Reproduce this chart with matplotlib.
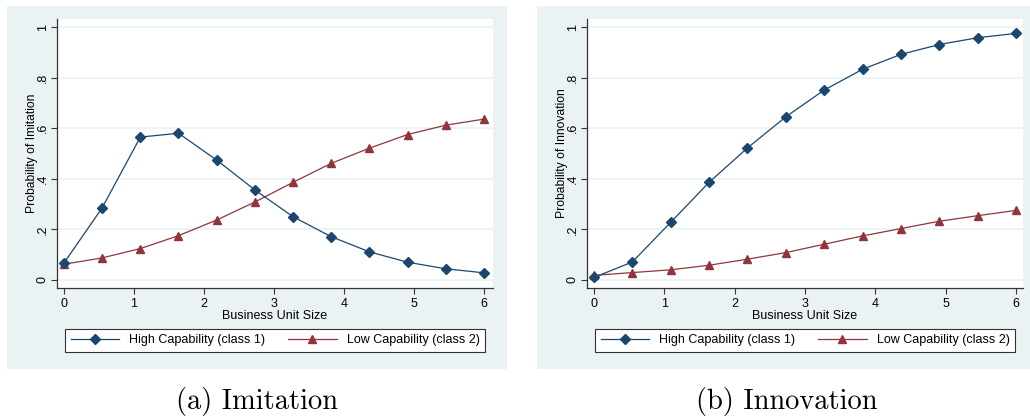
import numpy as np
import matplotlib
matplotlib.use("Agg")
import matplotlib.pyplot as plt
from matplotlib.patches import Rectangle

# business unit size grid (12 evaluation points)
unit_size = [0, 0.545, 1.091, 1.636, 2.182, 2.727, 3.273, 3.818, 4.364, 4.909, 5.455, 6]

imit_high = [0.067, 0.285, 0.565, 0.58, 0.474, 0.356, 0.25, 0.171, 0.111, 0.07, 0.044, 0.028]
imit_low = [0.062, 0.087, 0.124, 0.175, 0.237, 0.308, 0.386, 0.461, 0.521, 0.575, 0.612, 0.636]

innov_high = [0.01, 0.071, 0.228, 0.386, 0.522, 0.645, 0.751, 0.833, 0.892, 0.931, 0.958, 0.975]
innov_low = [0.018, 0.029, 0.04, 0.058, 0.082, 0.108, 0.141, 0.174, 0.203, 0.232, 0.254, 0.275]

yticks = [0, 0.2, 0.4, 0.6, 0.8, 1.0]
yticklabels = ["0", ".2", ".4", ".6", ".8", "1"]
xticks = [0, 1, 2, 3, 4, 5, 6]

series_labels = ["High Capability (class 1)", "Low Capability (class 2)"]
captions = ["(a) Imitation", "(b) Innovation"]
ylabels = ["Probability of Imitation", "Probability of Innovation"]

navy = "#1a476f"
maroon = "#90353b"
bg = "#eaf2f3"

plt.rcParams["font.family"] = ["Liberation Sans", "DejaVu Sans"]
plt.rcParams["font.size"] = 8.5

W, H = 1030, 416
fig = plt.figure(figsize=(W / 100, H / 100), dpi=100, facecolor="white")


def px_rect(x0, y0, x1, y1):
    # pixel box -> figure fraction [left, bottom, width, height]
    return [x0 / W, 1 - y1 / H, (x1 - x0) / W, (y1 - y0) / H]


def draw_panel(bgbox, axbox, xlim, high, low, ylabel, caption, cap_x):
    l, b, w, h = px_rect(*bgbox)
    fig.patches.append(Rectangle((l, b), w, h, transform=fig.transFigure,
                                 facecolor=bg, edgecolor="none", zorder=-10))
    ax = fig.add_axes(px_rect(*axbox))
    ax.set_zorder(5)
    ax.set_facecolor("white")
    for yt in yticks:
        ax.axhline(yt, color=bg, lw=1.2, zorder=1)
    ax.plot(unit_size, high, color=navy, lw=0.9, marker="D", ms=5.2,
            label=series_labels[0], zorder=3)
    ax.plot(unit_size, low, color=maroon, lw=0.9, marker="^", ms=5.8,
            label=series_labels[1], zorder=2)
    ax.set_xlim(*xlim)
    ax.set_ylim(-0.032, 1.032)
    ax.set_xticks(xticks)
    ax.set_yticks(yticks)
    ax.set_yticklabels(yticklabels, rotation=90, va="center")
    for s in ["top", "right"]:
        ax.spines[s].set_visible(False)
    for s in ["left", "bottom"]:
        ax.spines[s].set_color("#333333")
        ax.spines[s].set_linewidth(0.9)
    ax.tick_params(direction="out", length=4, width=0.8, color="#333333",
                   labelsize=9, pad=3)
    ax.tick_params(axis="y", pad=2)
    ax.set_xlabel("Business Unit Size", fontsize=9, labelpad=0)
    ax.set_ylabel(ylabel, fontsize=8.7, labelpad=-1)
    leg = ax.legend(loc="center", bbox_to_anchor=(0.5, -0.195), ncol=2,
                    frameon=True, fancybox=False, fontsize=9,
                    handlelength=3.9, handletextpad=0.8, columnspacing=1.8,
                    borderpad=0.45, edgecolor="#333333", framealpha=1)
    leg.get_frame().set_linewidth(0.8)
    fig.text(cap_x / W, 1 - 402 / H, caption, family="cmr10", fontsize=20.5,
             ha="center", va="center")
    return ax


draw_panel((7, 6, 507, 369), (57, 19, 493, 288), (-0.1, 6.13),
           imit_high, imit_low, ylabels[0], captions[0], 257)
draw_panel((537, 6, 1030, 369), (587, 19, 1023, 288), (-0.1, 6.1),
           innov_high, innov_low, ylabels[1], captions[1], 787)

fig.savefig("out.png", dpi=100, facecolor="white")
